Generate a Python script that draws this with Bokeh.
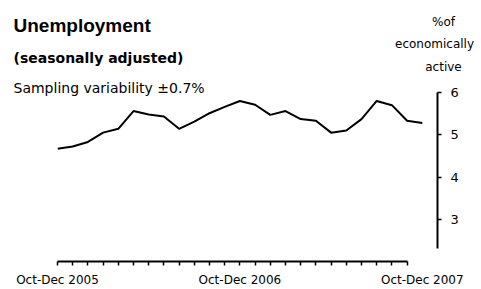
from bokeh.plotting import figure
from bokeh.models import LinearAxis, FixedTicker, Label, Range1d
from bokeh.embed import file_html
from bokeh.resources import INLINE

# ---- data ----
periods = ["Oct-Dec 2005", "Nov-Jan 2006", "Dec-Feb 2006", "Jan-Mar 2006", "Feb-Apr 2006",
           "Mar-May 2006", "Apr-Jun 2006", "May-Jul 2006", "Jun-Aug 2006", "Jul-Sep 2006",
           "Aug-Oct 2006", "Sep-Nov 2006", "Oct-Dec 2006", "Nov-Jan 2007", "Dec-Feb 2007",
           "Jan-Mar 2007", "Feb-Apr 2007", "Mar-May 2007", "Apr-Jun 2007", "May-Jul 2007",
           "Jun-Aug 2007", "Jul-Sep 2007", "Aug-Oct 2007", "Sep-Nov 2007", "Oct-Dec 2007"]
rate = [4.67, 4.72, 4.83, 5.05, 5.14, 5.56, 5.48, 5.43, 5.14, 5.31, 5.51, 5.66, 5.80,
        5.71, 5.47, 5.56, 5.37, 5.33, 5.05, 5.10, 5.37, 5.80, 5.70, 5.33, 5.28]
labelled = [0, 12, 24]
y_ticks = [3, 4, 5, 6]

W, H = 481, 289
L, R, T, B = 57, 44, 92, 26
X0, X1 = 0, len(periods)
Y0, Y1 = 2, 6
FW, FH = W - L - R, H - T - B

def dx(px):
    return X0 + (px - L) * (X1 - X0) / FW

def dy(py):
    return Y1 - (py - T) * (Y1 - Y0) / FH

p = figure(width=W, height=H, output_backend="svg", toolbar_location=None,
           x_range=Range1d(X0, X1), y_range=Range1d(Y0, Y1),
           x_axis_location=None, y_axis_location=None,
           min_border_left=L, min_border_right=R, min_border_top=T, min_border_bottom=B)
p.grid.visible = False
p.outline_line_color = None
p.background_fill_color = "white"
p.border_fill_color = "white"

idx = list(range(len(periods)))
p.line(x=idx, y=rate, line_color="black", line_width=2)

# x axis line with small ticks (no labels)
xa = LinearAxis(ticker=FixedTicker(ticks=[], minor_ticks=list(range(len(periods) - 1))),
                bounds=(0, len(periods) - 2))
xa.axis_line_color = "black"
xa.axis_line_width = 2
xa.major_tick_out = 0
xa.major_tick_in = 0
xa.minor_tick_out = 4
xa.minor_tick_in = 0
xa.minor_tick_line_width = 1.5
xa.minor_tick_line_color = "black"
xa.major_label_standoff = 0
p.add_layout(xa, "below")

# x labels
xb = LinearAxis(ticker=FixedTicker(ticks=labelled, minor_ticks=[]),
                major_label_overrides={i: periods[i] for i in labelled})
xb.axis_line_color = None
xb.major_tick_line_color = None
xb.minor_tick_line_color = None
xb.major_tick_out = 0
xb.major_tick_in = 0
xb.major_label_standoff = 7
xb.major_label_text_font = "DejaVu Sans"
xb.major_label_text_font_size = "12px"
xb.major_label_text_color = "black"
p.add_layout(xb, "below")

# y axis on right
ya = LinearAxis(ticker=FixedTicker(ticks=y_ticks, minor_ticks=[]), bounds=(2.3, 6))
ya.axis_line_color = "black"
ya.axis_line_width = 2
ya.major_tick_out = 4
ya.major_tick_in = 0
ya.major_tick_line_width = 1.5
ya.major_tick_line_color = "black"
ya.minor_tick_line_color = None
ya.major_label_standoff = 9
ya.major_label_text_font = "DejaVu Sans"
ya.major_label_text_font_size = "13px"
ya.major_label_text_color = "black"
p.add_layout(ya, "right")

def add_text(txt, px, py, font, size, bold=False, align="left", place="above"):
    p.add_layout(Label(x=dx(px), y=dy(py), text=txt, text_font=font,
                       text_font_size=size, text_font_style="bold" if bold else "normal",
                       text_align=align, text_baseline="alphabetic", text_color="black"),
                 place)

add_text("Unemployment", 13, 24, "Liberation Sans", "19px", bold=True)
add_text("(seasonally adjusted)", 13, 57, "DejaVu Sans", "14px", bold=True)
add_text("Sampling variability \u00b10.7%", 13, 87, "DejaVu Sans", "14px")
add_text("%of", 443, 21, "DejaVu Sans", "12px", align="center", place="left")
add_text("economically", 434, 43, "DejaVu Sans", "12px", align="center")
add_text("active", 443, 66, "DejaVu Sans", "12px", align="center")

open("out.html", "w").write(file_html(p, INLINE))
